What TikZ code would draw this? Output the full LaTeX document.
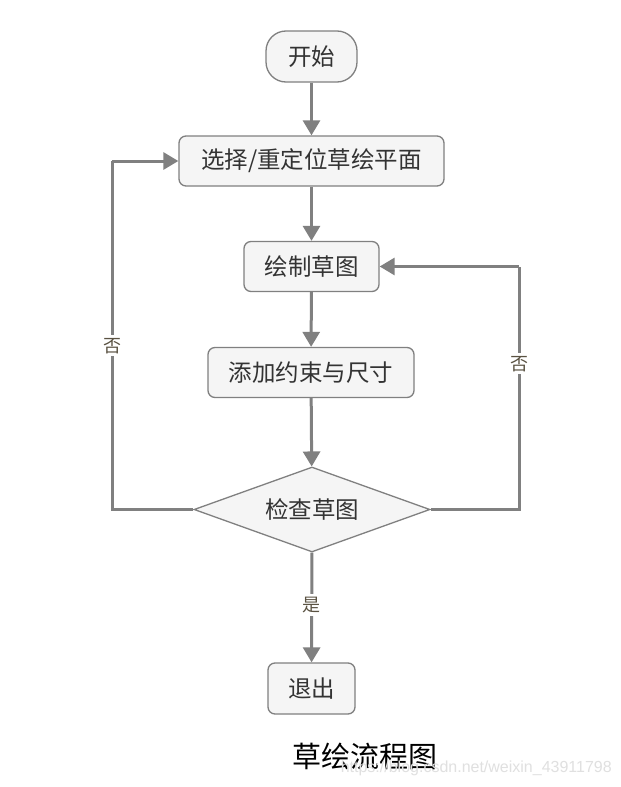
\documentclass[tikz,border=0pt]{standalone}
\usepackage{fontspec}
\setmainfont{Liberation Sans}
\newfontfamily\cjk{Noto Sans CJK SC}
\usetikzlibrary{arrows.meta,shapes.geometric}
\definecolor{linegray}{HTML}{808080}
\definecolor{boxfill}{HTML}{F5F5F5}
\definecolor{txtgray}{HTML}{333333}
\definecolor{lblcol}{HTML}{5A5242}
\begin{document}
\begin{tikzpicture}[x=1pt,y=-1pt,
  procbox/.style={draw=linegray,line width=1.3pt,fill=boxfill,rounded corners=7pt,
    minimum height=50pt,inner sep=0pt,text=txtgray,font=\cjk\fontsize{23.5}{27}\selectfont},
  conn/.style={draw=linegray,line width=3pt,-{Triangle[width=17pt,length=15pt]}},
  plainconn/.style={draw=linegray,line width=3pt},
  lbl/.style={fill=white,text=lblcol,inner sep=3pt,font=\cjk\fontsize{18}{20}\selectfont}]
\useasboundingbox[fill=white] (0,0) rectangle (621,787);
\node[procbox,rounded corners=20pt,minimum width=91pt,minimum height=51pt] (start) at (311.5,56.5) {开始};
\node[procbox,minimum width=265pt] (sel) at (311.5,161) {选择/重定位草绘平面};
\node[procbox,minimum width=135pt] (draw) at (311.5,266.5) {绘制草图};
\node[procbox,minimum width=206pt] (cons) at (311,372.5) {添加约束与尺寸};
\node[diamond,draw=linegray,line width=1.3pt,fill=boxfill,minimum width=236pt,minimum height=85pt,
  inner sep=0pt,text=txtgray,font=\cjk\fontsize{23.5}{27}\selectfont,aspect=2.78] (chk) at (312,509.5) {检查草图};
\node[procbox,minimum width=87pt,minimum height=51pt] (quit) at (311.5,688.5) {退出};
\coordinate (lb) at (112,509.5);
\coordinate (lt) at (112,161);
\coordinate (rb) at (519,509.5);
\coordinate (rt) at (519,266.5);
\draw[conn] (start) -- (sel);
\draw[conn] (sel) -- (draw);
\draw[conn] (draw) -- (cons);
\draw[conn] (cons) -- (chk);
\draw[conn] (chk) -- node[lbl,pos=0.48]{是} (quit);
\draw[plainconn] (chk.west) -- (lb) -- node[lbl,pos=0.47]{否} (lt);
\draw[conn] (lt) -- (sel.west);
\draw[plainconn] (chk.east) -- (rb) -- node[lbl,pos=0.6]{否} (rt);
\draw[conn] (rt) -- (draw.east);
\node[font=\cjk\fontsize{29}{32}\selectfont,text=black,inner sep=0pt] (cap) at (365,756) {草绘流程图};
\node[font=\fontsize{16}{18}\selectfont,text=black!12,inner sep=0pt,anchor=east] (wm) at (612,768) {https://blog.csdn.net/weixin\_43911798};
\end{tikzpicture}
\end{document}
